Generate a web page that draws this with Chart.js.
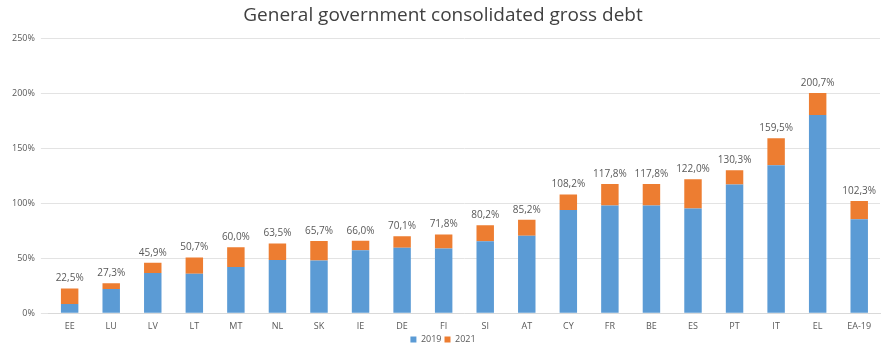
<!DOCTYPE html>
<html>
<head>
<meta charset="utf-8">
<script src="https://cdn.jsdelivr.net/npm/chart.js@4"></script>
<style>
  html, body { margin: 0; padding: 0; background: #fff; }
  #wrap { width: 886px; height: 354px; }
</style>
</head>
<body>
<div id="wrap"><canvas id="debtChart"></canvas></div>
<script>
const countries = ['EE','LU','LV','LT','MT','NL','SK','IE','DE','FI','SI','AT','CY','FR','BE','ES','PT','IT','EL','EA-19'];
const debt2019 = [8.4, 22.0, 36.7, 35.9, 42.0, 48.5, 48.1, 57.4, 59.6, 59.0, 65.6, 70.5, 94.0, 98.1, 98.1, 95.5, 117.2, 134.8, 180.5, 85.5];
const debt2021 = [22.5, 27.3, 45.9, 50.7, 60.0, 63.5, 65.7, 66.0, 70.1, 71.8, 80.2, 85.2, 108.2, 117.8, 117.8, 122.0, 130.3, 159.5, 200.7, 102.3];
const yTicks = [0, 50, 100, 150, 200, 250];

// orange part of the bar = increase between 2019 and 2021
const increase = debt2021.map((v, i) => +(v - debt2019[i]).toFixed(1));

const totalLabels = {
   id: 'totalLabels',
   afterDatasetsDraw(chart) {
      const ctx = chart.ctx;
      const meta = chart.getDatasetMeta(1);
      ctx.save();
      ctx.font = '10px "Open Sans", sans-serif';
      ctx.fillStyle = '#595959';
      ctx.textAlign = 'center';
      ctx.textBaseline = 'bottom';
      meta.data.forEach((bar, i) => {
         ctx.fillText(debt2021[i].toFixed(1).replace('.', ',') + '%', bar.x, bar.y - 5);
      });
      ctx.restore();
   }
};

new Chart(document.getElementById('debtChart'), {
   type: 'bar',
   data: {
      labels: countries,
      datasets: [
         { label: '2019', data: debt2019, backgroundColor: '#5B9BD5', barPercentage: 0.42, categoryPercentage: 1 },
         { label: '2021', data: increase, backgroundColor: '#ED7D31', barPercentage: 0.42, categoryPercentage: 1 }
      ]
   },
   options: {
      responsive: true,
      maintainAspectRatio: false,
      animation: false,
      layout: { padding: { left: 6, right: 6, top: 2, bottom: 0 } },
      scales: {
         x: {
            stacked: true,
            grid: { display: false },
            border: { color: '#d9d9d9' },
            ticks: { color: '#595959', font: { family: 'Open Sans', size: 9 }, padding: 0 }
         },
         y: {
            stacked: true,
            min: 0,
            max: 250,
            afterBuildTicks: axis => { axis.ticks = yTicks.map(v => ({ value: v })); },
            grid: { color: '#e3e3e3' },
            border: { display: false },
            ticks: {
               color: '#595959',
               font: { family: 'Open Sans', size: 9 },
               padding: 6,
               callback: v => v + '%'
            }
         }
      },
      plugins: {
         title: {
            display: true,
            text: 'General government consolidated gross debt',
            color: '#404040',
            font: { family: 'Open Sans', size: 19, weight: 'normal' },
            padding: { top: 2, bottom: 12 }
         },
         legend: {
            position: 'bottom',
            labels: {
               color: '#595959',
               font: { family: 'Open Sans', size: 9 },
               boxWidth: 6,
               boxHeight: 6,
               padding: 3
            }
         },
         tooltip: { enabled: false }
      }
   },
   plugins: [totalLabels]
});
</script>
</body>
</html>
